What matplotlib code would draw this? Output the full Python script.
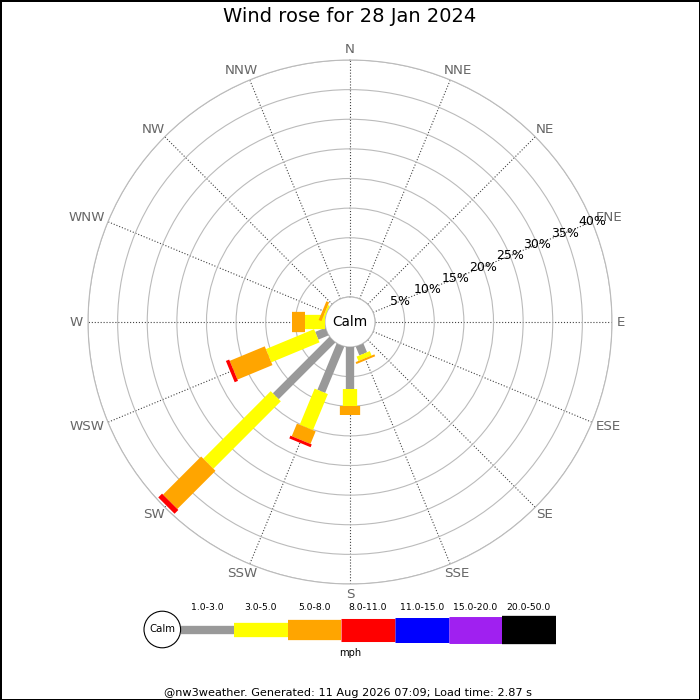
import numpy as np
import matplotlib
matplotlib.use('Agg')
import matplotlib.pyplot as plt
from matplotlib.patches import Circle

# data (percent of the day per direction / speed bin)
directions = ['N', 'NNE', 'NE', 'ENE', 'E', 'ESE', 'SE', 'SSE',
              'S', 'SSW', 'SW', 'WSW', 'W', 'WNW', 'NW', 'NNW']
speed_bins = ['1.0-3.0', '3.0-5.0', '5.0-8.0', '8.0-11.0', '11.0-15.0', '15.0-20.0', '20.0-50.0']
bin_colours = ['#999999', '#ffff00', '#ffa500', '#ff0000', '#0000ff', '#a020f0', '#000000']
bin_widths = [6.0, 10.3, 14.6, 16.6, 18.0, 19.4, 20.4]   # line widths in points

pct_1_3   = [0, 0, 0, 0, 0, 0, 0, 1.6, 7.15, 8.45, 13.5, 1.85, 0, 0, 0, 0]
pct_3_5   = [0, 0, 0, 0, 0, 0, 0, 0.8, 2.8, 6.6, 16.1, 8.8, 3.3, 0.3, 0, 0]
pct_5_8   = [0, 0, 0, 0, 0, 0, 0, 0.35, 1.5, 2.3, 9.1, 6.4, 2.3, 0.5, 0, 0]
pct_8_11  = [0, 0, 0, 0, 0, 0, 0, 0, 0, 0.5, 0.9, 0.6, 0, 0, 0, 0]
pct_11_15 = [0] * 16
pct_15_20 = [0] * 16
pct_20_50 = [0] * 16
all_bins = [pct_1_3, pct_3_5, pct_5_8, pct_8_11, pct_11_15, pct_15_20, pct_20_50]

rings = [5, 10, 15, 20, 25, 30, 35, 40]
title = 'Wind rose for 28 Jan 2024'
footer = '@nw3weather. Generated: 11 Aug 2026 07:09; Load time: 2.87 s'

fig = plt.figure(figsize=(7, 7), dpi=100, facecolor='white', edgecolor='black', linewidth=1)
ax = fig.add_axes([88/700, 116/700, 524/700, 524/700], projection='polar')
ax.set_theta_zero_location('N')
ax.set_theta_direction(-1)
ax.set_ylim(0, 40)
ax.set_rorigin(-4.22)

angles = np.deg2rad(np.arange(16) * 22.5)
ax.set_xticks(angles)
ax.set_xticklabels([])
ax.set_yticks(rings)
ax.set_yticklabels([])
ax.tick_params(length=0)
ax.xaxis.grid(True, linestyle=':', color='#444444', linewidth=0.8)
ax.yaxis.grid(True, linestyle='-', color='#bbbbbb', linewidth=0.8)
for name, sp in ax.spines.items():
    sp.set_color('#bbbbbb')
    sp.set_linewidth(0.8)

# calm circle edge
th = np.linspace(0, 2*np.pi, 361)
ax.plot(th, np.zeros_like(th), color='#aaaaaa', lw=0.8, zorder=2)

# stacked bars
cum = np.zeros(16)
for vals, col, w in zip(all_bins, bin_colours, bin_widths):
    for i in range(16):
        v = vals[i]
        if v > 0:
            ax.plot([angles[i], angles[i]], [cum[i], cum[i] + v], color=col, lw=w,
                    solid_capstyle='butt', zorder=3)
    cum = cum + np.array(vals)

# direction labels, pushed out so the box sits just outside the circle
renderer = fig.canvas.get_renderer()
for a, d in zip(angles, directions):
    tmp = fig.text(0, 0, d, fontsize=9.6)
    bb = tmp.get_window_extent(renderer)
    tmp.remove()
    hw = bb.width / 2 * 72 / fig.dpi
    hh = bb.height / 2 * 72 / fig.dpi * 0.8
    ax.annotate(d, xy=(a, 40.84), xytext=(hw * np.sin(a), hh * np.cos(a)),
                textcoords='offset points', ha='center', va='center',
                fontsize=9.6, color='#666666', annotation_clip=False)

# ring labels along ENE
for r in rings:
    ax.text(np.deg2rad(67.5), r, '%d%%' % r, ha='center', va='center', fontsize=9, color='black', zorder=4)

ax.text(0.5, 0.5, 'Calm', transform=ax.transAxes, ha='center', va='center', fontsize=9.8)

fig.text(0.5, 1 - 17/700, title, ha='center', va='center', fontsize=14)

# legend in pixel coordinates
lax = fig.add_axes([0, 0, 1, 1])
lax.set_xlim(0, 700)
lax.set_ylim(700, 0)
lax.axis('off')
lax.patch.set_alpha(0)

x0, seg, yb = 180.5, 53.6, 629.5
for k, (lab, col, w) in enumerate(zip(speed_bins, bin_colours, bin_widths)):
    lax.plot([x0 + k*seg, x0 + (k+1)*seg], [yb, yb], color=col, lw=w, solid_capstyle='butt')
    lax.text(x0 + (k+0.5)*seg, 607, lab, ha='center', va='center', fontsize=6.7)
lax.add_patch(Circle((162.3, yb), 18.3, facecolor='white', edgecolor='black', lw=0.8, zorder=5))
lax.text(162.3, yb, 'Calm', ha='center', va='center', fontsize=7.3, zorder=6)
lax.text(350.5, 653, 'mph', ha='center', va='center', fontsize=7.1)
lax.text(348, 692.5, footer, ha='center', va='center', fontsize=8.1)

fig.savefig('out.png', dpi=100, edgecolor=fig.get_edgecolor())
